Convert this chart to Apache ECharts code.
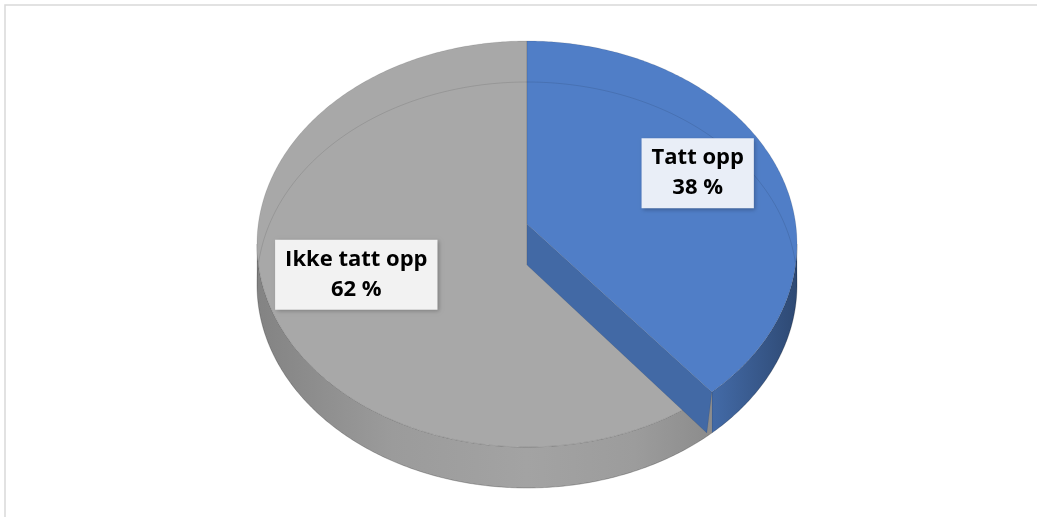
<!DOCTYPE html>
<html>
<head>
<meta charset="utf-8">
<script src="https://cdn.jsdelivr.net/npm/echarts@6/dist/echarts.min.js"></script>
<style>
html,body{margin:0;padding:0;background:#fff;}
#main{width:1037px;height:517px;}
</style>
</head>
<body>
<div id="main"></div>
<script>
// ---- data ----
const categories = ['Tatt opp', 'Ikke tatt opp'];
const values = [38, 62];
const valueLabels = ['38 %', '62 %'];

// ---- styles ----
const sliceColors = ['#507ec7', '#a8a8a8'];
const labelBg = ['#e9eef7', '#f2f2f2'];

const total = values.reduce((a, b) => a + b, 0);
const starts = [];
let acc = 0;
values.forEach(v => { starts.push(acc / total * Math.PI * 2); acc += v; });

const G = { cx: 527, cy: 244, rx: 270, ry: 203, d: 41, lift: 20 };

function pt(t, dy) {
  return [G.cx + G.rx * Math.sin(t), G.cy - G.ry * Math.cos(t) + (dy || 0)];
}
function arc(a, b, dy) {
  const n = Math.max(2, Math.ceil(Math.abs(b - a) / 0.01));
  const out = [];
  for (let k = 0; k <= n; k++) out.push(pt(a + (b - a) * k / n, dy));
  return out;
}
function shade(hex, f) {
  const r = parseInt(hex.slice(1, 3), 16), g = parseInt(hex.slice(3, 5), 16), b = parseInt(hex.slice(5, 7), 16);
  const c = x => Math.max(0, Math.min(255, Math.round(x * f)));
  return 'rgb(' + c(r) + ',' + c(g) + ',' + c(b) + ')';
}
function sideGradient(color) {
  const s = [[0, 0.78], [0.25, 0.92], [0.5, 0.97], [0.7, 0.93], [0.85, 0.83], [1, 0.58]];
  return new echarts.graphic.LinearGradient(G.cx - G.rx, 0, G.cx + G.rx, 0,
    s.map(p => ({ offset: p[0], color: shade(color, p[1]) })), true);
}

function renderItem(params, api) {
  const i = params.dataIndex;
  const a = starts[i];
  const b = a + api.value(0) / total * Math.PI * 2;
  const color = sliceColors[i];
  const apex = [G.cx, G.cy - G.lift + (i === 0 ? 0 : G.d)];
  const children = [];

  // side wall (front half only)
  const sa = Math.max(a, Math.PI / 2), sb = Math.min(b, Math.PI * 1.5);
  if (sb > sa) {
    const pts = arc(sa, sb, 0).concat(arc(sa, sb, G.d).reverse());
    children.push({
      type: 'polygon', z2: 1,
      shape: { points: pts },
      style: { fill: sideGradient(color), stroke: 'rgba(0,0,0,0.18)', lineWidth: 0.7 }
    });
  }

  // top face
  const topPts = [apex].concat(arc(a, b, 0));
  children.push({
    type: 'polygon', z2: i === 0 ? 4 : 2,
    shape: { points: topPts },
    style: { fill: color, stroke: 'rgba(0,0,0,0.15)', lineWidth: 0.7 }
  });

  // visible cut face of the first slice
  if (i === 0) {
    const e = pt(b, 0);
    children.push({
      type: 'polygon', z2: 3,
      shape: { points: [apex, e, [e[0] - 5, e[1] + G.d], [apex[0], apex[1] + G.d]] },
      style: { fill: shade(color, 0.83), stroke: 'rgba(0,0,0,0.12)', lineWidth: 0.7 }
    });
    // faint bottom outline seen through
    children.push({
      type: 'polyline', z2: 5, silent: true,
      shape: { points: arc(0, Math.PI * 2, G.d) },
      style: { fill: 'none', stroke: 'rgba(0,0,0,0.10)', lineWidth: 1 }
    });
  }

  // label
  const mid = (a + b) / 2, r = 0.68;
  const lx = G.cx + G.rx * r * Math.sin(mid);
  const ly = G.cy - G.ry * r * Math.cos(mid) - 20;
  children.push({
    type: 'text', z2: 10, x: lx, y: ly,
    style: {
      text: categories[i] + '\n' + valueLabels[i],
      font: 'bold 22px "Open Sans", sans-serif',
      fill: '#000',
      align: 'center', verticalAlign: 'middle',
      lineHeight: 30,
      backgroundColor: labelBg[i],
      padding: [5, 10, 5, 10],
      shadowColor: 'rgba(0,0,0,0.25)', shadowBlur: 4, shadowOffsetX: 1.5, shadowOffsetY: 1.5
    }
  });
  return { type: 'group', children: children };
}

const chart = echarts.init(document.getElementById('main'), null, { renderer: 'canvas' });
chart.setOption({
  animation: false,
  backgroundColor: '#ffffff',
  graphic: [{
    type: 'rect', z: -1,
    shape: { x: 5, y: 5, width: 1200, height: 700 },
    style: { fill: 'none', stroke: '#d9d9d9', lineWidth: 1.5 }
  }],
  series: [{
    type: 'custom',
    coordinateSystem: 'none',
    renderItem: renderItem,
    clip: false,
    data: values.map((v, i) => ({ name: categories[i], value: [v, i] }))
  }]
});
</script>
</body>
</html>
